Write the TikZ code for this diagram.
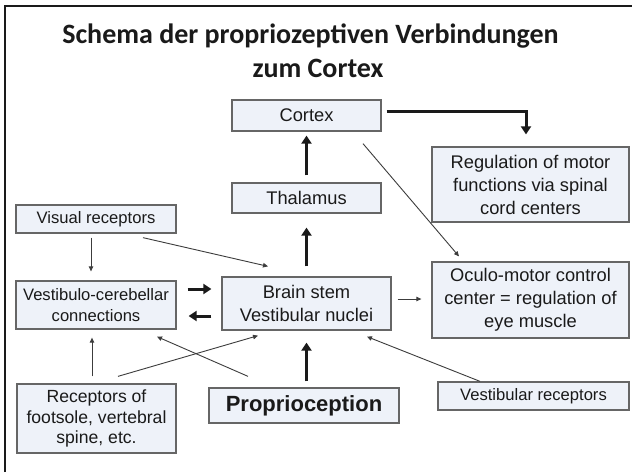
\documentclass[tikz,border=0pt]{standalone}
\usepackage{fontspec}
\setmainfont{Liberation Sans}
\newfontfamily\titlefont{Carlito}
\usetikzlibrary{arrows.meta,calc}
\definecolor{boxfill}{HTML}{EEF2F9}
\definecolor{boxline}{HTML}{666666}
\definecolor{ink}{HTML}{1A1A1A}
\begin{document}
\begin{tikzpicture}[x=1pt,y=-1pt,
  box/.style={draw=boxline, line width=1.3pt, fill=boxfill, inner sep=0pt, align=center, text=ink},
  bigtxt/.style={font=\fontsize{18.3}{23}\selectfont},
  smalltxt/.style={font=\fontsize{16.6}{20.5}\selectfont},
  thickarrow/.style={draw=ink, line width=3pt, -{Triangle[width=10pt,length=8pt]}},
  thinarrow/.style={draw=ink!85, line width=0.9pt, -{Triangle[width=4.5pt,length=5pt]}},
  titletxt/.style={font=\titlefont\bfseries\fontsize{28}{30}\selectfont, text=ink, inner sep=0pt}
]
\useasboundingbox (0,0) rectangle (632,472);
\fill[white] (0,0) rectangle (632,472);
\draw[line width=2pt, ink] (5,472) -- (5,6) -- (632,6);

\node[titletxt, anchor=base] (title1) at (310.5,43) {Schema der propriozeptiven Verbindungen};
\node[titletxt, anchor=base] (title2) at (318,77) {zum Cortex};

\node[box,bigtxt,minimum width=149pt,minimum height=31pt] (cortex) at (306.5,115.5) {Cortex};
\node[box,bigtxt,minimum width=149pt,minimum height=30pt] (thalamus) at (306.5,198) {Thalamus};
\node[box,smalltxt,minimum width=160pt,minimum height=28pt] (visual) at (96,219) {Visual receptors};
\node[box,smalltxt,minimum width=160pt,minimum height=48pt] (vestcer) at (96,305) {Vestibulo-cerebellar\\connections};
\node[box,bigtxt,minimum width=169pt,minimum height=53pt] (brain) at (306.5,303.5) {Brain stem\\Vestibular nuclei};
\node[box,bigtxt,minimum width=197pt,minimum height=75pt] (reg) at (530.5,184.5) {Regulation of motor\\functions via spinal\\cord centers};
\node[box,bigtxt,minimum width=197pt,minimum height=76pt] (oculo) at (530.5,300) {Oculo-motor control\\center = regulation of\\eye muscle};
\node[box,font=\fontsize{17.6}{20.5}\selectfont,minimum width=159pt,minimum height=69pt] (footsole) at (96.5,418.5) {Receptors of\\footsole, vertebral\\spine, etc.};
\node[box,font=\bfseries\fontsize{22}{24}\selectfont,minimum width=190pt,minimum height=35pt] (prop) at (304,405.5) {Proprioception};
\node[box,smalltxt,minimum width=191pt,minimum height=28pt] (vestrec) at (533.5,396) {Vestibular receptors};

% thick arrows
\draw[thickarrow, shorten <=7pt, shorten >=4pt] (thalamus) -- (cortex);
\draw[thickarrow, shorten <=10pt, shorten >=14pt] (brain) -- (thalamus);
\draw[thickarrow, shorten <=6pt, shorten >=12pt] (brain.south |- prop.north) -- (brain.south);
\draw[thickarrow] ($(cortex.east)+(5,-4.5)$) -| ($(reg.north)+(-4.5,-12)$);
\draw[thickarrow, shorten <=11pt, shorten >=10pt] ($(vestcer.east)+(0,-16)$) -- ($(brain.west)+(0,-14.5)$);
\draw[thickarrow, shorten <=10pt, shorten >=12pt] ($(brain.west)+(0,12.5)$) -- ($(vestcer.east)+(0,11)$);

% thin arrows
\draw[thinarrow] ($(visual.south)+(-5,4)$) -- ($(vestcer.north)+(-5,-9)$);
\draw[thinarrow] ($(visual.south)+(47,4)$) -- ($(brain.north)+(-38.5,-10)$);
\draw[thinarrow] ($(cortex.south)+(56.5,12)$) -- ($(oculo.north)+(-71.5,-5)$);
\draw[thinarrow] ($(brain.east)+(6,-4.5)$) -- ($(oculo.west)+(-10,-1)$);
\draw[thinarrow] ($(footsole.north)+(-4.5,-7)$) -- ($(vestcer.south)+(-4,8)$);
\draw[thinarrow] ($(footsole.north)+(21.5,-7)$) -- ($(brain.south)+(-48.5,5)$);
\draw[thinarrow] ($(prop.north)+(-56,-11)$) -- ($(vestcer.south)+(61,7)$);
\draw[thinarrow] ($(vestrec.north)+(-53.5,0)$) -- ($(brain.south)+(60.5,6)$);
\end{tikzpicture}
\end{document}
